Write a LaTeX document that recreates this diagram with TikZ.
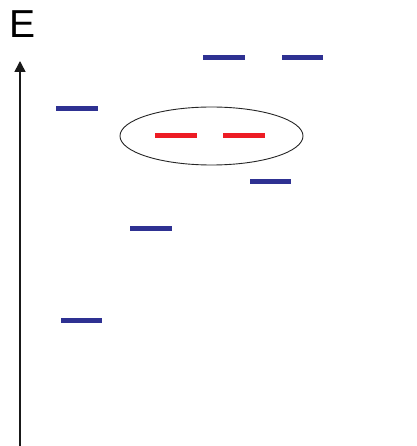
\documentclass[tikz,border=0pt]{standalone}
\usepackage{fontspec}
\setmainfont{Liberation Sans}
\usetikzlibrary{shapes.geometric,arrows.meta}
\definecolor{lvlblue}{RGB}{46,49,146}
\definecolor{lvlred}{RGB}{237,28,36}
\begin{document}
\begin{tikzpicture}[x=1pt,y=-1pt,
  level/.style={draw=lvlblue,line width=5pt},
  hilevel/.style={draw=lvlred,line width=5pt},
  group/.style={draw=black!85,line width=0.9pt,ellipse,minimum width=183pt,minimum height=58pt,inner sep=0pt},
  axis/.style={draw=black!90,line width=1.6pt,-{Triangle[length=11pt,width=11pt]}}]
\useasboundingbox (0,0) rectangle (416,446);
% energy axis
\coordinate (ax0) at (20,446);
\coordinate (ax1) at (20,61);
\draw[axis] (ax0) -- (ax1);
\node[anchor=base west,inner sep=0pt,font=\fontsize{39}{39}\selectfont] (elabel) at (9,38) {E};
% energy levels
\draw[level] (203,57.5) -- (245,57.5);
\draw[level] (282,57.5) -- (323,57.5);
\draw[level] (56,108.5) -- (98,108.5);
\draw[level] (250,182) -- (291,182);
\draw[level] (130,228.5) -- (172,228.5);
\draw[level] (61,320.5) -- (102,320.5);
% highlighted pair
\draw[hilevel] (155,136) -- (197,136);
\draw[hilevel] (223,136) -- (265,136);
\node[group] (pair) at (211.5,136) {};
\end{tikzpicture}
\end{document}
